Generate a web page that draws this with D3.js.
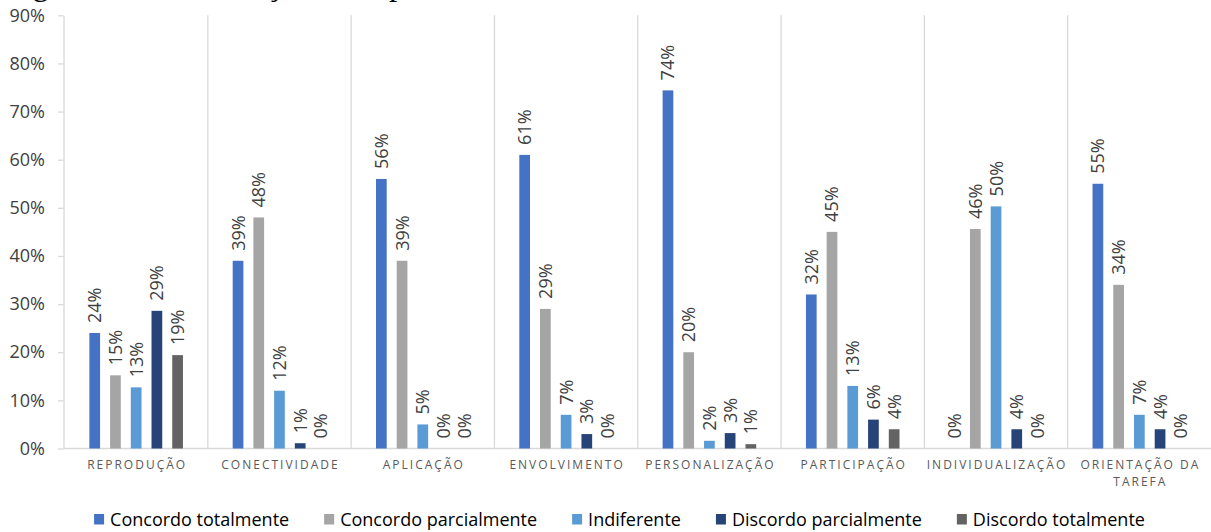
<!DOCTYPE html>
<html>
<head>
<meta charset="utf-8">
<script src="https://cdn.jsdelivr.net/npm/d3@7"></script>
<style>
  html, body { margin: 0; padding: 0; background: #ffffff; }
  svg { display: block; }
</style>
</head>
<body>
<svg id="chart" width="1211" height="532"></svg>
<script>
// Dimensões avaliadas (rótulos do eixo das categorias)
const categories = [
  "REPRODUÇÃO", "CONECTIVIDADE", "APLICAÇÃO", "ENVOLVIMENTO",
  "PERSONALIZAÇÃO", "PARTICIPAÇÃO", "INDIVIDUALIZAÇÃO", "ORIENTAÇÃO DA TAREFA"
];

// Séries de respostas
const seriesNames = [
  "Concordo totalmente", "Concordo parcialmente", "Indiferente",
  "Discordo parcialmente", "Discordo totalmente"
];

// Percentagens por dimensão (fração de respondentes)
const concordoTotalmente   = [0.24, 0.39, 0.56, 0.61, 0.744, 0.32, 0.00, 0.55];
const concordoParcialmente = [0.152, 0.48, 0.39, 0.29, 0.20, 0.45, 0.456, 0.34];
const indiferente          = [0.127, 0.12, 0.05, 0.07, 0.016, 0.13, 0.503, 0.07];
const discordoParcialmente = [0.286, 0.011, 0.00, 0.03, 0.032, 0.06, 0.04, 0.04];
const discordoTotalmente   = [0.194, 0.00, 0.00, 0.00, 0.009, 0.04, 0.00, 0.00];

// Marcas do eixo vertical
const yTicks = [0, 0.1, 0.2, 0.3, 0.4, 0.5, 0.6, 0.7, 0.8, 0.9];

const titleText = "Figura 5 – Distribuição das opiniões dos alunos";

const seriesValues = [
  concordoTotalmente, concordoParcialmente, indiferente,
  discordoParcialmente, discordoTotalmente
];
const colors = ["#4472C4", "#A5A5A5", "#5B9BD5", "#264478", "#636363"];

const W = 1211, H = 532;
const svg = d3.select("#chart");
const pct = d3.format(".0%");
const gridColor = "#d9d9d9";
const sans = "'Open Sans', 'Noto Sans', sans-serif";

// Título (a figura está recortada no topo)
svg.append("text")
  .attr("x", 5)
  .attr("y", -5)
  .attr("font-family", "'Liberation Serif', 'DejaVu Serif', serif")
  .attr("font-size", 33)
  .attr("fill", "#000")
  .text(titleText);

// Escalas
const axisX = 63.5;
const x0 = d3.scaleBand().domain(categories).range([64.5, W]).padding(0);
const x1 = d3.scaleBand().domain(seriesNames).range([0, x0.bandwidth()])
  .paddingInner(0.483).paddingOuter(1.2);
const y = d3.scaleLinear().domain([0, 0.9]).range([448.5, 15.3]);

// Separadores verticais entre dimensões
svg.append("g")
  .selectAll("line")
  .data(categories.slice(0, -1))
  .join("line")
  .attr("x1", d => x0(d) + x0.bandwidth())
  .attr("x2", d => x0(d) + x0.bandwidth())
  .attr("y1", y(0.9))
  .attr("y2", y(0))
  .attr("stroke", gridColor)
  .attr("stroke-width", 1.3);

// Eixo vertical
const yAxis = svg.append("g")
  .attr("transform", `translate(${axisX},0)`)
  .call(d3.axisLeft(y).tickValues(yTicks).tickFormat(pct)
    .tickSize(5.5).tickSizeOuter(0).tickPadding(13));
yAxis.select(".domain").attr("stroke", gridColor).attr("stroke-width", 1.3);
yAxis.selectAll(".tick line").attr("stroke", gridColor).attr("stroke-width", 1.3);
yAxis.selectAll(".tick text")
  .attr("font-family", sans)
  .attr("font-size", 18)
  .attr("fill", "#404040");

// Linha de base
svg.append("line")
  .attr("x1", axisX).attr("x2", W)
  .attr("y1", y(0)).attr("y2", y(0))
  .attr("stroke", gridColor)
  .attr("stroke-width", 1.3);

// Barras agrupadas
const rows = [];
categories.forEach((c, ci) => {
  seriesNames.forEach((s, si) => {
    rows.push({ cat: c, series: s, si, value: seriesValues[si][ci] });
  });
});

svg.append("g")
  .selectAll("rect")
  .data(rows)
  .join("rect")
  .attr("x", d => x0(d.cat) + x1(d.series))
  .attr("y", d => y(d.value))
  .attr("width", x1.bandwidth())
  .attr("height", d => y(0) - y(d.value))
  .attr("fill", d => colors[d.si]);

// Rótulos de valor (verticais)
svg.append("g")
  .selectAll("text")
  .data(rows)
  .join("text")
  .attr("transform", d =>
    `translate(${x0(d.cat) + x1(d.series) + x1.bandwidth() / 2},${y(d.value) - 10}) rotate(-90)`)
  .attr("dy", "0.36em")
  .attr("text-anchor", "start")
  .attr("font-family", sans)
  .attr("font-size", 18)
  .attr("fill", "#404040")
  .text(d => pct(d.value));

// Rótulos das categorias (com quebra de linha quando não cabem)
const catG = svg.append("g");
categories.forEach(c => {
  const cx = x0(c) + x0.bandwidth() / 2;
  const t = catG.append("text")
    .attr("x", cx)
    .attr("y", 469)
    .attr("text-anchor", "middle")
    .attr("font-family", sans)
    .attr("font-size", 12)
    .attr("letter-spacing", 2)
    .attr("fill", "#595959");
  const words = c.split(" ");
  let line = [];
  let tspan = t.append("tspan").attr("x", cx + 1).attr("dy", 0);
  words.forEach(w => {
    line.push(w);
    tspan.text(line.join(" "));
    if (tspan.node().getComputedTextLength() > x0.bandwidth() - 4 && line.length > 1) {
      line.pop();
      tspan.text(line.join(" "));
      line = [w];
      tspan = t.append("tspan").attr("x", cx + 1).attr("dy", 17).text(w);
    }
  });
});

// Legenda
const legend = svg.append("g");
const items = seriesNames.map((s, i) => {
  const g = legend.append("g");
  g.append("rect")
    .attr("x", 0).attr("y", -12)
    .attr("width", 10).attr("height", 10.5)
    .attr("fill", colors[i]);
  const txt = g.append("text")
    .attr("x", 16).attr("y", 0)
    .attr("font-family", sans)
    .attr("font-size", 18)
    .attr("fill", "#000")
    .text(s);
  return { g, w: 16 + txt.node().getComputedTextLength() };
});
const gap = 35;
const total = d3.sum(items, d => d.w) + gap * (items.length - 1);
let lx = 619.5 - total / 2;
items.forEach(it => {
  it.g.attr("transform", `translate(${lx},526)`);
  lx += it.w + gap;
});
</script>
</body>
</html>
